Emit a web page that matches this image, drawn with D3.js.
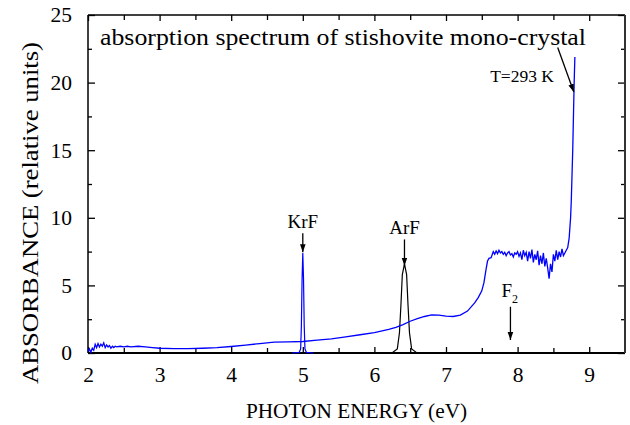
<!DOCTYPE html>
<html><head><meta charset="utf-8">
<script src="https://cdn.jsdelivr.net/npm/d3@7"></script>
<style>body{margin:0;background:#fff}svg{display:block}text{font-family:"Liberation Serif","Times New Roman",serif}</style>
</head><body><svg id="c" width="630" height="425"></svg>
<script>
// Absorption spectrum (blue)
const energy = [2.00,2.02,2.04,2.06,2.08,2.10,2.12,2.14,2.16,2.18,2.20,2.22,2.24,2.26,2.28,2.30,2.32,2.34,2.36,2.38,2.40,2.45,2.50,2.55,2.60,2.70,2.80,2.90,3.00,3.20,3.40,3.60,3.80,4.00,4.20,4.40,4.60,4.80,5.00,5.20,5.40,5.60,5.80,6.00,6.20,6.30,6.40,6.50,6.60,6.70,6.80,6.90,7.00,7.10,7.20,7.30,7.40,7.45,7.50,7.53,7.56,7.58,7.60,7.63,7.66,7.68,7.70,7.72,7.74,7.76,7.78,7.80,7.82,7.84,7.86,7.88,7.90,7.92,7.94,7.96,7.98,8.00,8.02,8.04,8.06,8.08,8.10,8.12,8.14,8.16,8.18,8.20,8.22,8.24,8.26,8.28,8.30,8.32,8.34,8.36,8.38,8.40,8.42,8.44,8.46,8.48,8.50,8.52,8.54,8.56,8.58,8.60,8.62,8.64,8.66,8.68,8.70,8.72,8.74,8.75,8.77,8.79,8.80];
const absorbance = [0.1,0.3,0.05,0.35,0.2,0.65,0.4,0.7,0.45,0.65,0.5,0.75,0.4,0.6,0.45,0.55,0.35,0.5,0.4,0.5,0.45,0.5,0.45,0.5,0.45,0.5,0.45,0.4,0.35,0.33,0.32,0.35,0.4,0.48,0.58,0.7,0.8,0.82,0.85,0.95,1.05,1.2,1.35,1.5,1.75,1.9,2.1,2.35,2.55,2.7,2.82,2.8,2.72,2.7,2.8,3.1,3.7,4.1,4.6,5.2,6.2,6.8,7.0,7.05,7.5,7.3,7.55,7.35,7.6,7.4,7.5,7.3,7.45,7.2,7.4,7.5,7.25,7.35,7.1,7.4,7.3,7.5,7.15,7.4,6.9,7.6,7.2,7.45,6.8,7.5,7.0,7.65,6.7,7.3,6.9,7.55,6.5,7.2,6.6,7.4,6.4,7.0,6.3,5.5,6.6,6.0,7.3,6.8,7.6,6.9,7.5,7.1,7.7,7.2,7.4,7.6,7.8,8.5,10.0,11.3,15.0,20.0,21.9];
// KrF laser line (blue)
const krfEnergy = [4.85,4.95,4.97,4.98,4.99,5.00,5.01,5.02,5.03,5.05,5.15];
const krfValue  = [0,0.05,0.3,2.0,5.5,7.4,5.5,2.0,0.3,0.05,0];
// ArF laser line (black)
const arfEnergy = [6.00,6.25,6.32,6.35,6.37,6.39,6.42,6.45,6.47,6.49,6.52,6.59,6.80];
const arfValue  = [0,0.02,0.3,1.5,3.5,5.8,6.6,5.8,3.5,1.5,0.3,0.02,0];
// Axis ticks
const xTicks = [2,3,4,5,6,7,8,9];
const yTicks = [0,5,10,15,20,25];
// Annotations: label, text position, arrow from -> to (data units)
const annLabels = ["KrF","ArF"];
const annX = [5.00,6.42];
const annTextY = [9.25,8.8];
const annFromY = [8.85,8.4];
const annToY = [7.45,6.45];

const svg = d3.select("#c");
const m = {l:88, r:625, t:15, b:353};
const x = d3.scaleLinear().domain([2,9.5]).range([m.l,m.r]);
const y = d3.scaleLinear().domain([0,25]).range([m.b,m.t]);

const defs = svg.append("defs");
defs.append("marker").attr("id","ah").attr("viewBox","0 0 10 10").attr("refX",10).attr("refY",5)
  .attr("markerWidth",8).attr("markerHeight",8).attr("markerUnits","userSpaceOnUse").attr("orient","auto")
  .append("path").attr("d","M0,1.5L10,5L0,8.5Z").attr("fill","#000");

const xMinor = d3.range(2.5,9.5,1);
const yMinor = d3.range(2.5,25,5);

function styleAxis(g){ g.select(".domain").remove(); g.selectAll("line").attr("stroke","#000").attr("stroke-width",1.3); }

svg.append("g").attr("transform",`translate(0,${m.b})`)
  .call(d3.axisBottom(x).tickValues(xTicks).tickSize(-6).tickPadding(14).tickFormat(d3.format("d")))
  .call(styleAxis).selectAll("text").attr("font-size",21.5).attr("fill","#000").attr("font-family","Liberation Serif");
svg.append("g").attr("transform",`translate(0,${m.b})`)
  .call(d3.axisBottom(x).tickValues(xMinor).tickSize(-5).tickFormat("")).call(styleAxis);
svg.append("g").attr("transform",`translate(0,${m.t})`)
  .call(d3.axisTop(x).tickValues(xTicks).tickSize(-6).tickFormat("")).call(styleAxis);
svg.append("g").attr("transform",`translate(0,${m.t})`)
  .call(d3.axisTop(x).tickValues(xMinor).tickSize(-5).tickFormat("")).call(styleAxis);
svg.append("g").attr("transform",`translate(${m.l},0)`)
  .call(d3.axisLeft(y).tickValues(yTicks).tickSize(-7).tickPadding(16).tickFormat(d3.format("d")))
  .call(styleAxis).selectAll("text").attr("font-size",21.5).attr("fill","#000").attr("font-family","Liberation Serif");
svg.append("g").attr("transform",`translate(${m.l},0)`)
  .call(d3.axisLeft(y).tickValues(yMinor).tickSize(-4).tickFormat("")).call(styleAxis);
svg.append("g").attr("transform",`translate(${m.r},0)`)
  .call(d3.axisRight(y).tickValues(yTicks).tickSize(-7).tickFormat("")).call(styleAxis);
svg.append("g").attr("transform",`translate(${m.r},0)`)
  .call(d3.axisRight(y).tickValues(yMinor).tickSize(-4).tickFormat("")).call(styleAxis);

svg.append("line").attr("x1",m.l).attr("x2",m.r).attr("y1",m.b).attr("y2",m.b).attr("stroke","#000").attr("stroke-width",2);
svg.append("line").attr("x1",m.l).attr("x2",m.r).attr("y1",m.t).attr("y2",m.t).attr("stroke","#000").attr("stroke-width",1.5);
svg.append("line").attr("x1",m.l).attr("x2",m.l).attr("y1",m.t).attr("y2",m.b).attr("stroke","#000").attr("stroke-width",1.5);
svg.append("line").attr("x1",m.r).attr("x2",m.r).attr("y1",m.t).attr("y2",m.b).attr("stroke","#333").attr("stroke-width",2);

const line = d3.line().x(d=>x(d[0])).y(d=>y(d[1]));
svg.append("path").datum(arfEnergy.map((e,i)=>[e,arfValue[i]])).attr("d",line).attr("fill","none").attr("stroke","#000").attr("stroke-width",1.2);
svg.append("path").datum(krfEnergy.map((e,i)=>[e,krfValue[i]])).attr("d",line).attr("fill","none").attr("stroke","#0000ff").attr("stroke-width",1.2);
svg.append("path").datum(energy.map((e,i)=>[e,absorbance[i]])).attr("d",line).attr("fill","none").attr("stroke","#0000ff").attr("stroke-width",1.3);

annLabels.forEach((t,i)=>{
  svg.append("text").attr("x",x(annX[i])).attr("y",y(annTextY[i])).attr("text-anchor","middle").attr("font-size",19).text(t);
  svg.append("line").attr("x1",x(annX[i])).attr("x2",x(annX[i])).attr("y1",y(annFromY[i])).attr("y2",y(annToY[i]))
    .attr("stroke","#000").attr("stroke-width",1.3).attr("marker-end","url(#ah)");
});
const f2 = svg.append("text").attr("x",x(7.89)).attr("y",y(4.12)).attr("text-anchor","middle").attr("font-size",19);
f2.append("tspan").text("F");
f2.append("tspan").attr("font-size",12).attr("dy",6).text("2");
svg.append("line").attr("x1",x(7.9)).attr("x2",x(7.9)).attr("y1",y(3.42)).attr("y2",y(0.96))
  .attr("stroke","#000").attr("stroke-width",1.3).attr("marker-end","url(#ah)");
svg.append("text").attr("x",554).attr("y",82).attr("text-anchor","end").attr("font-size",17.5).text("T=293 K");
svg.append("line").attr("x1",x(8.56)).attr("x2",x(8.785)).attr("y1",y(22.6)).attr("y2",y(19.3))
  .attr("stroke","#000").attr("stroke-width",1.3).attr("marker-end","url(#ah)");

svg.append("text").attr("x",100).attr("y",45).attr("font-size",24).attr("textLength",486).attr("lengthAdjust","spacingAndGlyphs").text("absorption spectrum of stishovite mono-crystal");
svg.append("text").attr("x",(m.l+m.r)/2).attr("y",418).attr("text-anchor","middle").attr("font-size",21.3).text("PHOTON ENERGY (eV)");
svg.append("text").attr("transform","translate(38,213) rotate(-90)").attr("text-anchor","middle").attr("font-size",24)
  .attr("textLength",342).attr("lengthAdjust","spacingAndGlyphs").text("ABSORBANCE (relative units)");
</script></body></html>
